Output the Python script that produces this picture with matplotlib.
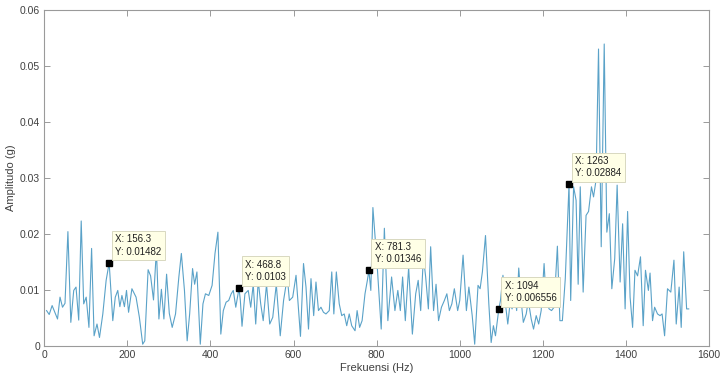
import matplotlib
matplotlib.use("Agg")
import matplotlib.pyplot as plt

plt.rcParams["font.family"] = ["Liberation Sans", "DejaVu Sans"]

# spectrum vertices (Hz, g)
freq = [5.6, 12, 19, 25.5, 32, 38, 44, 50, 57, 64, 71, 76.5, 83, 89, 95, 101, 107.6, 114,
        120, 127, 133, 141, 149, 156.3, 165, 171, 177, 182, 187, 193, 198, 203, 211, 221,
        229, 237, 242, 250, 256, 263, 270, 276, 282, 288, 294.5, 301, 308, 316, 324, 330,
        337.5, 344, 350, 357, 362, 367.5, 375.6, 382, 388, 396, 404, 411, 418, 425, 431,
        437.7, 444, 450, 455, 461, 468.8, 472, 476, 483, 491, 497, 503, 509, 515, 521, 527,
        535, 542.7, 550, 558.5, 568, 576, 585, 590, 598, 606, 616.7, 624, 630, 636, 642,
        648.5, 654, 660, 666, 672, 678, 686, 692, 697, 703, 710, 716, 722, 728, 734, 740,
        748, 753, 759, 765, 772, 777.7, 781.3, 786, 791, 801, 811, 818.6, 827, 836, 844,
        851, 857, 862.5, 869, 877, 886, 894, 900, 906, 912.6, 918, 924.5, 930, 937, 943,
        949, 956, 963, 969, 975, 981, 987, 995, 1000, 1008, 1016, 1022, 1030, 1036, 1044,
        1049, 1054.5, 1062, 1070, 1075.6, 1081, 1086, 1094, 1098, 1104, 1110, 1115.6, 1121,
        1126, 1132, 1137, 1142, 1147.7, 1153, 1160, 1165, 1172, 1177.6, 1184, 1190, 1196,
        1203, 1208, 1215, 1221, 1227, 1235, 1241, 1247, 1254, 1263, 1267, 1274, 1280, 1285,
        1290, 1297, 1304, 1310, 1317, 1322, 1328, 1334, 1340.5, 1347.7, 1354, 1360, 1366,
        1373, 1378.8, 1386, 1392, 1398, 1404, 1410, 1416, 1421.7, 1428, 1435, 1441.5, 1447,
        1454, 1458, 1464, 1469, 1476, 1482, 1487, 1493, 1500, 1508, 1515.5, 1521, 1528,
        1533, 1539, 1546, 1551]
amp = [.0063, .0056, .0072, .006, .0048, .0087, .0069, .0076, .0204, .0042, .0099, .0105,
       .0046, .0223, .0075, .0087, .0033, .0174, .0018, .0039, .0015, .0057, .0117, .01482,
       .0045, .0087, .0099, .007, .009, .007, .0099, .006, .0102, .0087, .0051, .0003,
       .0009, .0136, .0125, .0082, .0172, .0048, .0101, .0048, .0128, .0058, .0033, .0057,
       .0123, .0165, .0099, .0009, .0057, .0138, .011, .0132, .0003, .0075, .0093, .009,
       .0108, .0165, .0203, .0021, .0063, .0078, .0081, .0093, .0099, .0069, .0103, .0081,
       .0035, .0093, .0099, .0069, .011, .0039, .0117, .0075, .0045, .011, .0039, .0051,
       .011, .0018, .0081, .0123, .0081, .0087, .0126, .0017, .0147, .0105, .003, .012,
       .0054, .0114, .0063, .0069, .006, .0057, .0063, .0132, .0057, .0132, .0075, .0054,
       .0057, .0036, .0057, .0036, .0027, .0063, .0033, .0045, .0093, .0117, .01346, .0099,
       .0247, .0147, .003, .021, .0045, .0123, .0063, .0099, .0063, .0123, .0045, .014,
       .0021, .0093, .0117, .0063, .0159, .0123, .0066, .0177, .0063, .011, .0045, .0069,
       .0081, .0093, .0063, .0075, .0102, .0063, .0081, .0162, .0063, .0105, .0054, .0003,
       .0108, .0102, .0132, .0197, .0075, .0006, .0036, .0018, .006556, .0081, .0126,
       .0075, .0039, .0075, .0066, .0093, .0063, .0139, .0081, .0042, .0057, .0081, .0048,
       .003, .0054, .0039, .0063, .0147, .0081, .0066, .0063, .0069, .0178, .0045, .0045,
       .012, .02884, .0081, .0284, .026, .011, .0284, .0096, .0233, .024, .0284, .0266,
       .0296, .053, .0177, .0539, .0203, .0236, .0102, .0156, .0287, .0114, .0218, .0066,
       .024, .0087, .0033, .0135, .0125, .0159, .0036, .0135, .0099, .013, .0045, .0069,
       .0057, .0054, .0057, .0018, .0102, .0096, .0153, .0039, .0105, .0033, .0168, .0066,
       .0066]

# data tips shown on the chart
tip_x = [156.3, 468.8, 781.3, 1094, 1263]
tip_y = [0.01482, 0.0103, 0.01346, 0.006556, 0.02884]
tip_labels = ["X: 156.3\nY: 0.01482", "X: 468.8\nY: 0.0103", "X: 781.3\nY: 0.01346",
              "X: 1094\nY: 0.006556", "X: 1263\nY: 0.02884"]

fig = plt.figure(figsize=(7.25, 3.78), dpi=100)
ax = fig.add_axes([0.061, 0.085, 0.917, 0.889])

ax.plot(freq, amp, color="#5aa2c8", linewidth=0.8)
ax.plot(tip_x, tip_y, linestyle="none", marker="s", markersize=5,
        color="black", zorder=4)
for x, y, lab in zip(tip_x, tip_y, tip_labels):
    ax.annotate(lab, (x, y), xytext=(6, 6), textcoords="offset pixels",
                ha="left", va="bottom", fontsize=7, color="#202020",
                linespacing=1.3, zorder=5,
                bbox=dict(boxstyle="square,pad=0.35", fc="#ffffe6",
                          ec="#d8d8c0", lw=0.7))

ax.set_xlim(0, 1600)
ax.set_ylim(0, 0.06)
ax.set_xticks(range(0, 1601, 200))
ax.set_yticks([0, 0.01, 0.02, 0.03, 0.04, 0.05, 0.06])
ax.set_yticklabels(["0", "0.01", "0.02", "0.03", "0.04", "0.05", "0.06"])
ax.tick_params(direction="in", top=True, right=True, length=4, width=0.6,
               color="#8a8a8a", labelsize=7.5, labelcolor="#404040", pad=3)
for s in ax.spines.values():
    s.set_color("#9a9a9a")
    s.set_linewidth(0.8)

ax.set_xlabel("Frekuensi (Hz)", fontsize=8, color="#404040", labelpad=2)
ax.set_ylabel("Amplitudo (g)", fontsize=8, color="#404040", labelpad=3)

fig.savefig("out.png", dpi=100)
